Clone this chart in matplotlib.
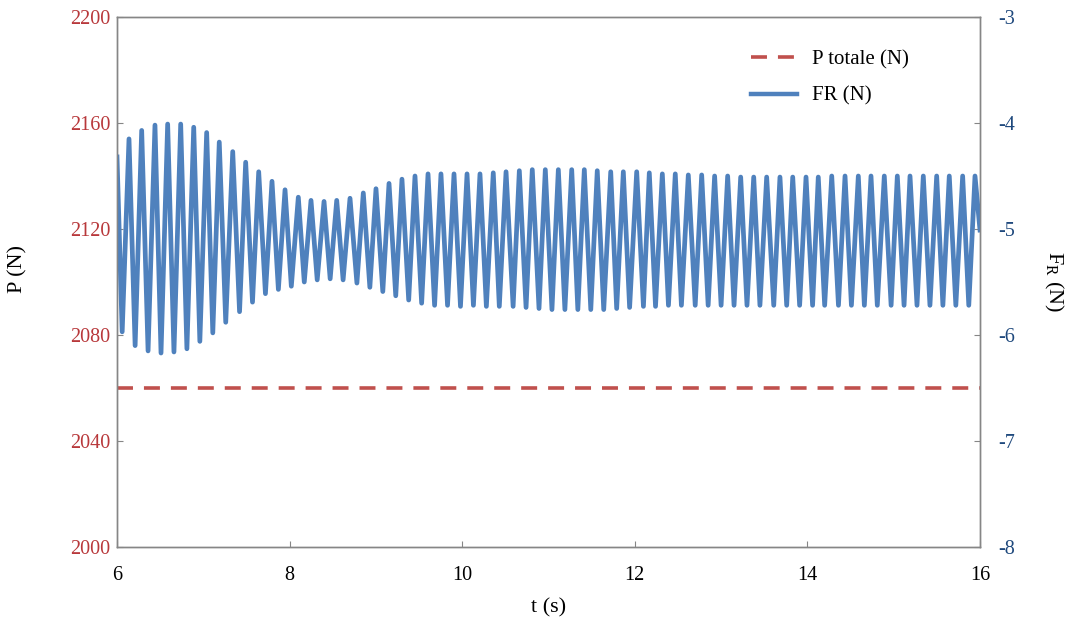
import matplotlib
matplotlib.use("Agg")
import matplotlib.pyplot as plt
from matplotlib.lines import Line2D

plt.rcParams.update({
    "font.family": ["Liberation Serif", "DejaVu Serif"],
    "mathtext.fontset": "custom",
    "mathtext.rm": "Liberation Serif",
    "lines.scale_dashes": False,
    "axes.unicode_minus": False,
})

RED = "#C0504D"
BLUE = "#4F81BD"
RED_TXT = "#B8383B"
BLUE_TXT = "#1F497D"
SPINE = "#868686"

# --- P totale (left axis) ---
t_p = [6.0, 16.0]
p_totale = [2060, 2060]

# --- FR (right axis): extremes ---
t_start, fr_start = 6.0, -4.32
t_end, fr_end = 16.0, -5.01

t_peak = [6.139, 6.286, 6.440, 6.587, 6.738, 6.889, 7.039, 7.185, 7.341, 7.491, 7.642, 7.796, 7.947,
          8.101, 8.248, 8.399, 8.546, 8.700, 8.854, 9.001, 9.152, 9.302, 9.453, 9.604, 9.754, 9.905, 10.056,
          10.206, 10.360, 10.508, 10.662, 10.812, 10.963, 11.114, 11.269, 11.415, 11.565, 11.721, 11.867, 12.022,
          12.168, 12.319, 12.469, 12.620, 12.775, 12.925, 13.076, 13.227, 13.378, 13.528, 13.682, 13.830, 13.984, 14.126,
          14.282, 14.436, 14.590, 14.737, 14.891, 15.042, 15.189, 15.343, 15.498, 15.644, 15.799, 15.942]
fr_peak = [-4.15, -4.07, -4.02, -4.01, -4.01, -4.04, -4.09, -4.18, -4.27, -4.37, -4.46, -4.55, -4.63,
           -4.70, -4.73, -4.74, -4.73, -4.71, -4.66, -4.62, -4.57, -4.53, -4.50, -4.48, -4.48, -4.48, -4.48,
           -4.48, -4.47, -4.46, -4.45, -4.44, -4.44, -4.44, -4.44, -4.44, -4.45, -4.46, -4.46, -4.46,
           -4.47, -4.48, -4.48, -4.49, -4.49, -4.50, -4.50, -4.51, -4.51, -4.51, -4.51, -4.51, -4.51, -4.51,
           -4.50, -4.50, -4.50, -4.50, -4.50, -4.50, -4.50, -4.50, -4.50, -4.50, -4.50, -4.50]

t_trough = [6.06, 6.21, 6.36, 6.51, 6.66, 6.81, 6.96, 7.11, 7.26, 7.42, 7.57, 7.72, 7.87,
            8.02, 8.17, 8.32, 8.47, 8.62, 8.78, 8.93, 9.08, 9.23, 9.38, 9.53, 9.68, 9.83, 9.98,
            10.13, 10.28, 10.43, 10.59, 10.74, 10.89, 11.04, 11.19, 11.34, 11.49, 11.64, 11.79, 11.94,
            12.10, 12.24, 12.39, 12.54, 12.70, 12.85, 13.00, 13.15, 13.30, 13.45, 13.61, 13.76, 13.91, 14.06,
            14.20, 14.36, 14.51, 14.66, 14.81, 14.97, 15.12, 15.27, 15.42, 15.57, 15.72, 15.87]
fr_trough = [-5.97, -6.10, -6.15, -6.17, -6.16, -6.13, -6.06, -5.98, -5.88, -5.78, -5.69, -5.61, -5.57,
             -5.54, -5.50, -5.48, -5.47, -5.48, -5.51, -5.55, -5.59, -5.63, -5.67, -5.70, -5.72, -5.72, -5.73,
             -5.72, -5.73, -5.73, -5.73, -5.74, -5.75, -5.76, -5.76, -5.76, -5.76, -5.76, -5.75, -5.74,
             -5.73, -5.73, -5.72, -5.72, -5.72, -5.72, -5.72, -5.72, -5.72, -5.72, -5.72, -5.72, -5.72, -5.72,
             -5.72, -5.72, -5.72, -5.72, -5.72, -5.72, -5.72, -5.72, -5.72, -5.72, -5.72, -5.72]

# trough, peak, trough, peak ... in time order
t_fr = [t_start]
fr = [fr_start]
for tt, vt, tp, vp in zip(t_trough, fr_trough, t_peak, fr_peak):
    t_fr += [tt, tp]
    fr += [vt, vp]
t_fr.append(t_end)
fr.append(fr_end)

x_ticks = [6, 8, 10, 12, 14, 16]
p_ticks = [2000, 2040, 2080, 2120, 2160, 2200]
fr_ticks = [-8, -7, -6, -5, -4, -3]

fig, ax = plt.subplots(figsize=(10.71, 6.23), dpi=100)
fig.subplots_adjust(left=117 / 1071, right=980 / 1071, top=1 - 17 / 623, bottom=1 - 547 / 623)
ax2 = ax.twinx()

ax.plot(t_p, p_totale, color=RED, lw=2.6, dashes=(11.5, 7.9), dash_capstyle="butt")
ax2.plot(t_fr, fr, color=BLUE, lw=3.4, solid_joinstyle="round")

ax.set_xlim(6, 16)
ax.set_ylim(2000, 2200)
ax2.set_ylim(-8, -3)
ax.set_xticks(x_ticks)
ax.set_yticks(p_ticks)
ax2.set_yticks(fr_ticks)

for a in (ax, ax2):
    for s in a.spines.values():
        s.set_color(SPINE)
        s.set_linewidth(1.0)
ax.tick_params(direction="in", length=4, color=SPINE, labelsize=14.5)
ax.tick_params(axis="y", colors=SPINE, labelcolor=RED_TXT, pad=5)
ax.tick_params(axis="x", labelcolor="black", pad=14)
ax2.tick_params(direction="in", length=4, color=SPINE, labelsize=14.5, pad=13, labelcolor=BLUE_TXT)

ax.set_xlabel("t (s)", fontsize=16, labelpad=9)
ax.set_ylabel("P (N)", fontsize=16)
ax.yaxis.set_label_coords(-0.104, 0.525)
ax2.set_ylabel(r"F$_{\mathregular{R}}$ (N)", fontsize=16, rotation=-90, labelpad=36)

handles = [Line2D([], [], color=RED, lw=2.6, dashes=(11.5, 7.9)),
           Line2D([], [], color=BLUE, lw=3.2)]
ax2.legend(handles, ["P totale (N)", "FR (N)"], loc="upper left",
           bbox_to_anchor=(751 / 1071, 1 - 50 / 623), bbox_transform=fig.transFigure,
           frameon=False, fontsize=15, handlelength=2.2, handletextpad=0.75,
           labelspacing=0.8, borderpad=0, borderaxespad=0)

fig.savefig("out.png", dpi=100, facecolor="white")
